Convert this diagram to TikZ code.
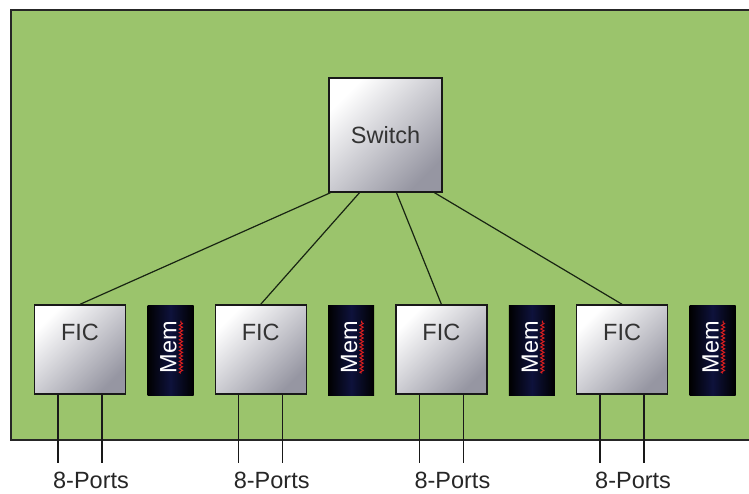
\documentclass[tikz,border=0pt]{standalone}
\usepackage{fontspec}
\setmainfont{Liberation Sans}
\usetikzlibrary{decorations.pathmorphing}
\definecolor{boardgreen}{RGB}{155,196,108}
\definecolor{chipgray}{RGB}{150,150,162}
\definecolor{memnavy}{RGB}{14,18,60}
\definecolor{wire}{RGB}{24,36,18}
\newcommand\chipfont{\fontsize{23.5}{27}\selectfont}
\begin{document}
\begin{tikzpicture}[x=1pt,y=-1pt,
  chip/.style={draw=black!90, line width=1.4pt, top color=white,
    bottom color=chipgray, shading angle=45, inner sep=0pt},
  switchbox/.style={chip, minimum width=113pt, minimum height=114pt,
    font=\chipfont, text=black!80},
  ficbox/.style={chip, minimum width=91pt, minimum height=89pt},
  ficlabel/.style={anchor=center, yshift=-28pt, inner sep=0pt,
    font=\chipfont, text=black!80},
  membox/.style={minimum width=46pt, minimum height=90pt, inner sep=0pt,
    left color=black, right color=black, middle color=memnavy, draw=none},
  memtext/.style={rotate=90, inner sep=0pt, font=\chipfont, text=white},
  squig/.style={draw={rgb,255:red,215;green,30;blue,30}, line width=1pt,
    decorate, decoration={snake, amplitude=1.6pt, segment length=3.6pt}},
  link/.style={draw=wire, line width=1.2pt},
  port/.style={draw=black!90, line width=1.3pt},
  portlabel/.style={anchor=base, inner sep=0pt, font=\chipfont, text=black!85}]

  \useasboundingbox (0,0) rectangle (749,493);

  % board
  \fill[boardgreen] (11,10) rectangle (749,440);
  \draw[line width=1.6pt, black!85] (749,10) -- (11,10) -- (11,440) -- (749,440);

  % central switch
  \node[switchbox] (sw) at (385.5,135) {Switch};

  % four interface cards, each with its memory and port pair
  \foreach \i/\fx/\mx in {1/80/170.5, 2/260.7/351.2, 3/441.4/531.9, 4/622.1/712.6} {
    \node[ficbox, label={[ficlabel]north:FIC}] (f\i) at (\fx,349.5) {};
    \node[membox] (m\i) at (\mx,350) {};
    \node[memtext] (mt\i) at ([xshift=-2pt,yshift=3pt]m\i.center) {Mem};
    \draw[squig] ([xshift=4pt]mt\i.south west) -- ([xshift=4pt]mt\i.south east);
    \coordinate (pa\i) at ([xshift=-22pt]f\i.south |- 0,463);
    \coordinate (pb\i) at ([xshift=22pt]f\i.south |- 0,463);
    \draw[port] ([xshift=-22pt]f\i.south) -- (pa\i);
    \draw[port] ([xshift=22pt]f\i.south) -- (pb\i);
    \node[portlabel] (pl\i) at (\fx+11,488) {8-Ports};
  }

  % switch to card links
  \draw[link] ([xshift=-55pt]sw.south) -- (f1.north);
  \draw[link] ([xshift=-26pt]sw.south) -- (f2.north);
  \draw[link] ([xshift=11pt]sw.south) -- (f3.north);
  \draw[link] ([xshift=49pt]sw.south) -- (f4.north);
\end{tikzpicture}
\end{document}
